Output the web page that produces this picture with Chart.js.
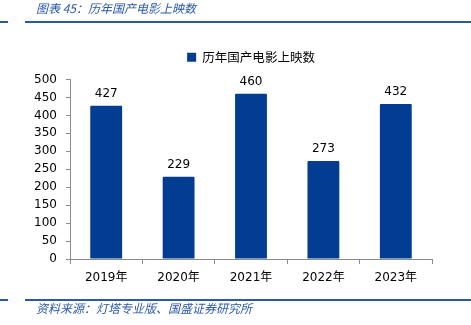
<!DOCTYPE html>
<html>
<head>
<meta charset="utf-8">
<script src="https://cdn.jsdelivr.net/npm/chart.js@4.4.0/dist/chart.umd.min.js"></script>
<style>
  html, body { margin: 0; padding: 0; background: #fff; }
  #wrap { position: relative; width: 471px; height: 325px; overflow: hidden; }
  #chart { position: absolute; left: 0; top: 0; }
  .cap { position: absolute; left: 36px; font-family: "Noto Sans CJK SC", sans-serif; font-style: italic;
         font-size: 12px; color: #2b59a8; white-space: nowrap; }
  .rule { position: absolute; height: 2px; background: #2b59a8; }
</style>
</head>
<body>
<div id="wrap">
  <canvas id="chart" width="471" height="325"></canvas>
  <div class="cap" style="top:-1px;">图表 45：历年国产电影上映数</div>
  <div class="rule" style="left:0; width:8px; top:21px;"></div>
  <div class="rule" style="left:25px; width:446px; top:21px;"></div>
  <div class="rule" style="left:0; width:8px; top:299px;"></div>
  <div class="rule" style="left:25px; width:446px; top:299px;"></div>
  <div class="cap" style="top:299px;">资料来源：灯塔专业版、国盛证券研究所</div>
</div>
<script>
document.addEventListener("DOMContentLoaded", function () {
  const years = ['2019年', '2020年', '2021年', '2022年', '2023年'];
  const releases = [427, 229, 460, 273, 432];
  const seriesName = '历年国产电影上映数';

  const barColor = '#023d92';
  const axisColor = '#8c8c8c';
  const fontFamily = '"DejaVu Sans", "Noto Sans CJK SC", sans-serif';

  // value labels above each bar
  const valueLabels = {
    id: 'valueLabels',
    afterDatasetsDraw(chart) {
      const ctx = chart.ctx;
      const meta = chart.getDatasetMeta(0);
      ctx.save();
      ctx.font = '12px ' + fontFamily;
      ctx.fillStyle = '#000';
      ctx.textAlign = 'center';
      ctx.textBaseline = 'bottom';
      meta.data.forEach((bar, i) => {
        ctx.fillText(releases[i], bar.x, bar.y - 6);
      });
      ctx.restore();
    }
  };

  // small gap between legend and plot area
  const legendGap = {
    id: 'legendGap',
    beforeInit(chart) {
      Chart.layouts.addBox(chart, {
        position: 'top',
        weight: 0,
        fullSize: true,
        options: {},
        width: 0,
        height: 0,
        isHorizontal() { return true; },
        getPadding() { return { top: 0, left: 0, right: 0, bottom: 0 }; },
        update(w) { this.width = w; this.height = 6; },
        draw() {}
      });
    }
  };

  const ctx = document.getElementById('chart').getContext('2d');
  new Chart(ctx, {
    type: 'bar',
    data: {
      labels: years,
      datasets: [{
        label: seriesName,
        data: releases,
        backgroundColor: barColor,
        borderWidth: 0,
        borderRadius: 1,
        categoryPercentage: 1,
        barPercentage: 0.44
      }]
    },
    options: {
      responsive: false,
      animation: false,
      layout: { padding: { left: 0, right: 39, top: 42, bottom: 0 } },
      plugins: {
        legend: {
          display: true,
          position: 'top',
          fullSize: false,
          labels: {
            boxWidth: 9,
            boxHeight: 9,
            padding: 9,
            color: '#000',
            font: { size: 12.5, family: '"Noto Sans CJK SC", sans-serif' }
          }
        },
        tooltip: { enabled: false }
      },
      scales: {
        x: {
          afterFit: function (s) { s.height = 66; },
          grid: { display: true, drawOnChartArea: false, drawTicks: true, tickLength: 5, color: axisColor },
          border: { color: axisColor },
          ticks: { color: '#000', padding: 7, font: { size: 12, family: fontFamily } }
        },
        y: {
          min: 0,
          max: 500,
          afterFit: function (s) { s.width = 70; },
          grid: { display: true, drawOnChartArea: false, drawTicks: true, tickLength: 4, color: axisColor },
          border: { color: axisColor },
          ticks: { stepSize: 50, color: '#000', padding: 9, font: { size: 12, family: fontFamily } }
        }
      }
    },
    plugins: [valueLabels, legendGap]
  });
});
</script>
</body>
</html>
